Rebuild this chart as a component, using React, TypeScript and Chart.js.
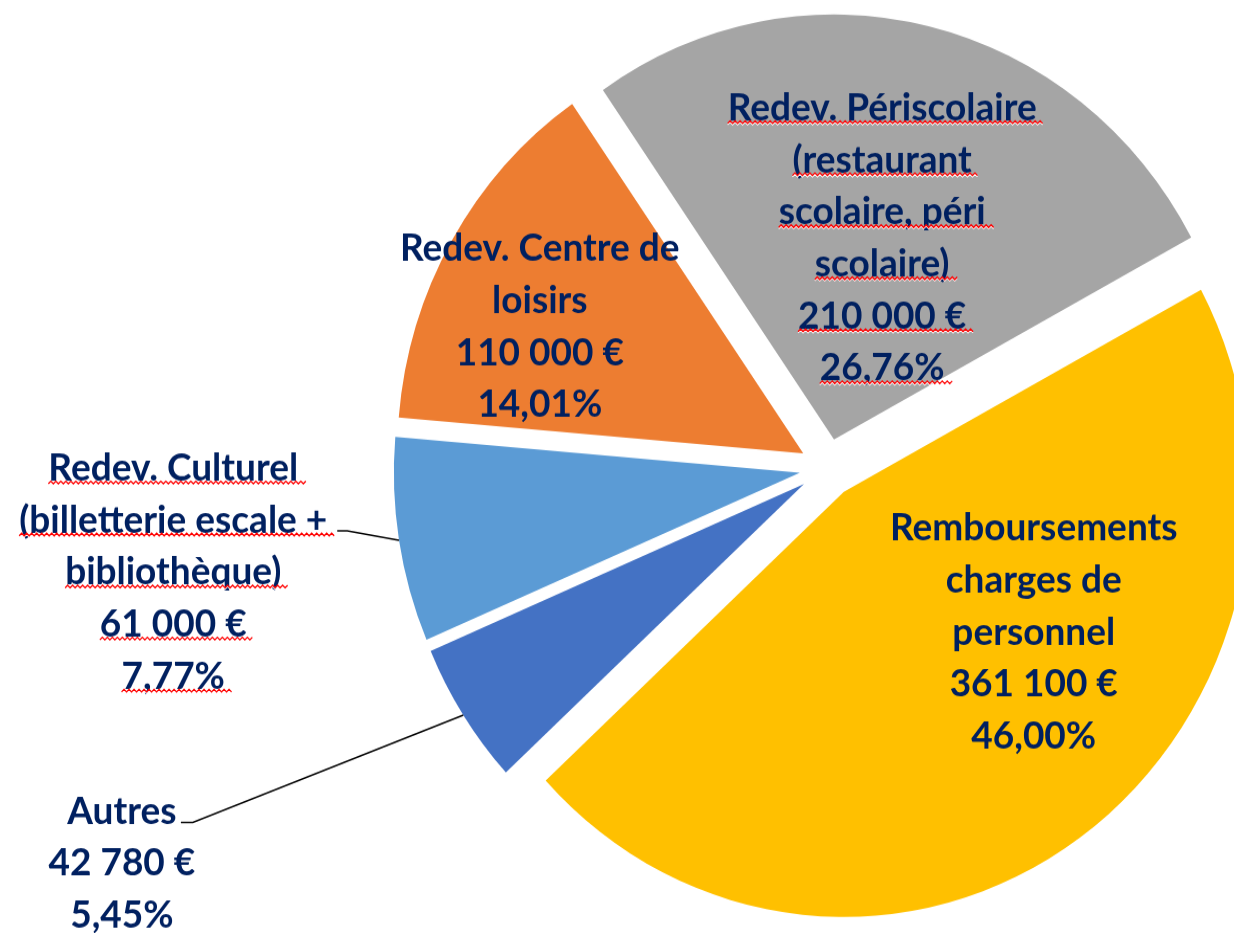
import React, { useEffect, useRef } from 'react';
import { Chart, registerables } from 'chart.js';

Chart.register(...registerables);

// ---- data ----
const categories = [
  'Redev. Périscolaire (restaurant scolaire, péri scolaire)',
  'Remboursements charges de personnel',
  'Autres',
  'Redev. Culturel (billetterie escale + bibliothèque)',
  'Redev. Centre de loisirs',
];
const values = [210000, 361100, 42780, 61000, 110000];
const valueLabels = ['210 000 €', '361 100 €', '42 780 €', '61 000 €', '110 000 €'];
const percentLabels = ['26,76%', '46,00%', '5,45%', '7,77%', '14,01%'];
const nameLines = [
  ['Redev. Périscolaire', '(restaurant', 'scolaire, péri', 'scolaire)'],
  ['Remboursements', 'charges de', 'personnel'],
  ['Autres'],
  ['Redev. Culturel', '(billetterie escale +', 'bibliothèque)'],
  ['Redev. Centre de', 'loisirs'],
];

// ---- styles / layout ----
const colors = ['#A5A5A5', '#FFC000', '#4472C4', '#5B9BD5', '#ED7D31'];
const TEXT_COLOR = '#002060';
const FONT = 'bold 37px Lato';
const LINE_H = 49.7;
const RADIUS = 406;
const EXPLODE = 28;
const ROTATION = -34.7;
const SY = 1.047;
const W = 1234;
const H = Math.round(933 / SY);

// label block placement: angle shift from slice mid-angle (deg), distance from centre (x radius)
const labelShift = [0.5, -17.2, 4.8, 0.5, -4.9];
const labelDist = [0.558, 0.638, 1.971, 1.63, 0.783];
const labelSquiggle = [true, false, false, true, false];
// leader lines: elbow point relative to label centre, and horizontal tick length
const leaders: (null | { dx: number; dy: number; tick: number })[] = [
  null,
  null,
  { dx: 71, dy: -39, tick: 12 },
  { dx: 174, dy: -39.5, tick: 10 },
  null,
];

function squiggle(ctx: CanvasRenderingContext2D, x0: number, x1: number, y: number) {
  ctx.save();
  const path = () => {
    ctx.beginPath();
    ctx.moveTo(x0, y);
    let up = true;
    for (let x = x0 + 2.5; x <= x1; x += 2.5) {
      ctx.lineTo(x, up ? y - 2.5 : y);
      up = !up;
    }
  };
  ctx.translate(0, 1.2);
  path();
  ctx.strokeStyle = '#FFFFFF';
  ctx.lineWidth = 1.2;
  ctx.stroke();
  ctx.translate(0, -1.2);
  path();
  ctx.strokeStyle = '#FF0000';
  ctx.lineWidth = 1.3;
  ctx.stroke();
  ctx.restore();
}

const explodePlugin = {
  id: 'explode',
  beforeDatasetDraw(chart: any, args: any) {
    const meta = chart.getDatasetMeta(args.index);
    const ctx = chart.ctx;
    meta.data.forEach((arc: any) => {
      const mid = (arc.startAngle + arc.endAngle) / 2;
      ctx.save();
      ctx.translate(Math.cos(mid) * EXPLODE, Math.sin(mid) * EXPLODE);
      arc.draw(ctx);
      ctx.restore();
    });
    return false;
  },
};

const labelPlugin = {
  id: 'sliceLabels',
  afterDatasetsDraw(chart: any) {
    const meta = chart.getDatasetMeta(0);
    const ctx: CanvasRenderingContext2D = chart.ctx;
    ctx.save();
    ctx.font = FONT;
    ctx.fillStyle = TEXT_COLOR;
    ctx.textAlign = 'center';
    ctx.textBaseline = 'middle';
    meta.data.forEach((arc: any, i: number) => {
      const mid = (arc.startAngle + arc.endAngle) / 2;
      const R = arc.outerRadius;
      const a = mid + (labelShift[i] * Math.PI) / 180;
      const lx = arc.x + Math.cos(a) * labelDist[i] * R;
      const ly = arc.y + Math.sin(a) * labelDist[i] * R;
      const lines = [...nameLines[i], valueLabels[i], percentLabels[i]];
      const n = lines.length;
      lines.forEach((t, j) => {
        const y = ly + (j - (n - 1) / 2) * LINE_H;
        ctx.fillStyle = TEXT_COLOR;
        ctx.fillText(t, lx, y);
        if (labelSquiggle[i]) {
          const w = ctx.measureText(t).width;
          squiggle(ctx, lx - w / 2, lx + w / 2 + 8, y + 15);
        }
      });
      const ld = leaders[i];
      if (ld) {
        const ex = arc.x + Math.cos(mid) * (R + EXPLODE);
        const ey = arc.y + Math.sin(mid) * (R + EXPLODE);
        ctx.beginPath();
        ctx.moveTo(lx + ld.dx - ld.tick, ly + ld.dy);
        ctx.lineTo(lx + ld.dx, ly + ld.dy);
        ctx.lineTo(ex, ey);
        ctx.strokeStyle = '#000000';
        ctx.lineWidth = 1.5;
        ctx.stroke();
      }
    });
    ctx.restore();
  },
};

export default function App() {
  const ref = useRef<HTMLCanvasElement | null>(null);
  useEffect(() => {
    if (!ref.current) return;
    const chart = new Chart(ref.current, {
      type: 'pie',
      data: {
        labels: categories,
        datasets: [
          {
            data: values,
            backgroundColor: colors,
            borderWidth: 0,
          },
        ],
      },
      options: {
        responsive: false,
        animation: false,
        events: [],
        rotation: ROTATION,
        radius: RADIUS,
        layout: { padding: { left: 421, right: 0, top: 3, bottom: 0 } },
        plugins: {
          legend: { display: false },
          tooltip: { enabled: false },
        },
      } as any,
      plugins: [explodePlugin, labelPlugin],
    });
    return () => chart.destroy();
  }, []);
  return (
    <div style={{ position: 'absolute', left: 0, top: 0, width: W, height: 933, overflow: 'hidden', background: '#fff' }}>
      <div style={{ transform: `scaleY(${SY})`, transformOrigin: '0 0', width: W, height: H }}>
        <canvas ref={ref} width={W} height={H} style={{ display: 'block', width: W, height: H }} />
      </div>
    </div>
  );
}
